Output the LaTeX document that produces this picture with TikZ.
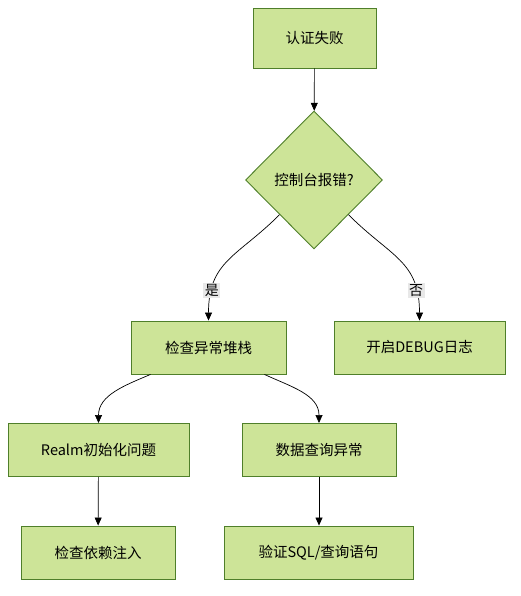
\documentclass[tikz,border=0pt]{standalone}
\usepackage{fontspec}
\setmainfont{Noto Sans CJK SC}
\usetikzlibrary{shapes.geometric,arrows.meta}
\definecolor{boxfill}{HTML}{CDE498}
\definecolor{boxline}{HTML}{4F7F2A}
\definecolor{lblfill}{HTML}{E8E8E8}
\tikzset{
  stepbox/.style={draw=boxline,fill=boxfill,line width=0.9pt,minimum height=53pt,inner sep=0pt,font=\fontsize{14.5}{16}\selectfont},
  choice/.style={diamond,draw=boxline,fill=boxfill,line width=0.9pt,aspect=1,minimum width=137pt,minimum height=138pt,inner sep=0pt,font=\fontsize{14.5}{16}\selectfont},
  lbl/.style={fill=lblfill,inner sep=1.5pt,font=\fontsize{14}{15}\selectfont},
  arr/.style={-{Triangle[length=8pt,width=7pt]},line width=0.7pt}
}
\begin{document}
\begin{tikzpicture}[x=1pt,y=1pt]
\useasboundingbox (0,0) rectangle (521,596);

\node[stepbox,minimum width=123pt,minimum height=60pt] (fail) at (314.5,558) {认证失败};
\node[choice] (console) at (314,416) {控制台报错?};
\node[stepbox,minimum width=155pt] (stack) at (208.5,248.5) {检查异常堆栈};
\node[stepbox,minimum width=171pt] (debug) at (419.5,248.5) {开启DEBUG日志};
\node[stepbox,minimum width=181pt] (realm) at (98.5,146) {Realm初始化问题};
\node[stepbox,minimum width=154pt] (query) at (319,146) {数据查询异常};
\node[stepbox,minimum width=154pt] (inject) at (98,43.5) {检查依赖注入};
\node[stepbox,minimum width=189pt] (sql) at (318.5,43.5) {验证SQL/查询语句};

\draw[arr] (fail) -- (console);
\draw[arr] (console.south west) to[out=225,in=90,looseness=1.2] node[lbl,pos=0.8] {是} (stack.north);
\draw[arr] (console.south east) to[out=-45,in=90,looseness=1.2] node[lbl,pos=0.8] {否} (debug.north);
\draw[arr] ([xshift=-58pt]stack.south) to[out=203,in=90] (realm.north);
\draw[arr] ([xshift=56pt]stack.south) to[out=-25,in=90] (query.north);
\draw[arr] (realm) -- (inject);
\draw[arr] (query) -- (query |- sql.north);
\end{tikzpicture}
\end{document}
